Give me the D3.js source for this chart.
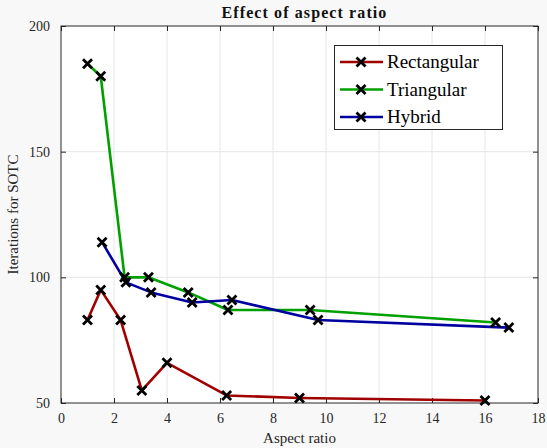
<!DOCTYPE html>
<html>
<head>
<meta charset="utf-8">
<script src="https://cdn.jsdelivr.net/npm/d3@7"></script>
<style>
  html, body { margin: 0; padding: 0; background: #f8f8f8; }
  svg { display: block; }
  svg text { font-family: "Liberation Serif", "DejaVu Serif", serif !important; }
</style>
</head>
<body>
<svg id="chart" width="547" height="448"></svg>
<script>
// Iterations needed for SOTC against aspect ratio, one series per mesh type
const seriesNames = ["Rectangular", "Triangular", "Hybrid"];
const seriesColors = ["#a00000", "#00a000", "#0000a0"];

const rectX = [1.0, 1.5, 2.25, 3.05, 4.0, 6.25, 9.0, 16.0];
const rectY = [83, 95, 83, 55, 66, 53, 52, 51];

const triX = [1.0, 1.5, 2.4, 3.3, 4.8, 6.3, 9.4, 16.4];
const triY = [185, 180, 100, 100, 94, 87, 87, 82];

const hybX = [1.55, 2.45, 3.4, 4.95, 6.45, 9.7, 16.9];
const hybY = [114, 98, 94, 90, 91, 83, 80];

const xTicks = [0, 2, 4, 6, 8, 10, 12, 14, 16, 18];
const yTicks = [50, 100, 150, 200];

const series = [
  { name: seriesNames[0], color: seriesColors[0], pts: rectX.map((x, i) => [x, rectY[i]]) },
  { name: seriesNames[1], color: seriesColors[1], pts: triX.map((x, i) => [x, triY[i]]) },
  { name: seriesNames[2], color: seriesColors[2], pts: hybX.map((x, i) => [x, hybY[i]]) }
];

const FONT = "'Liberation Serif', 'DejaVu Serif', serif";
const svg = d3.select("#chart");
const m = { left: 61, right: 538, top: 26, bottom: 403 };

const x = d3.scaleLinear().domain([0, 18]).range([m.left, m.right]);
const y = d3.scaleLinear().domain([50, 200]).range([m.bottom, m.top]);

// plot area
svg.append("rect")
  .attr("x", m.left).attr("y", m.top)
  .attr("width", m.right - m.left).attr("height", m.bottom - m.top)
  .attr("fill", "#ffffff");

// grid
const grid = svg.append("g").attr("stroke", "#e6e6e6").attr("stroke-width", 1);
xTicks.slice(1, -1).forEach(t => {
  grid.append("line").attr("x1", x(t)).attr("x2", x(t))
    .attr("y1", m.top).attr("y2", m.bottom);
});
yTicks.slice(1, -1).forEach(t => {
  grid.append("line").attr("x1", m.left).attr("x2", m.right)
    .attr("y1", y(t)).attr("y2", y(t));
});

// axes (ticks pointing inward, mirrored on top/right)
const tickLen = 5;
const axisStyle = g => {
  g.attr("font-family", null);
  g.select(".domain").remove();
  g.selectAll(".tick line").attr("stroke", "#262626").attr("stroke-width", 1);
  g.selectAll(".tick text")
    .style("font-family", FONT).style("font-size", "14px")
    .attr("fill", "#262626");
};

svg.append("g").attr("transform", `translate(0,${m.bottom})`)
  .call(d3.axisBottom(x).tickValues(xTicks).tickFormat(d3.format("d"))
    .tickSizeInner(-tickLen).tickSizeOuter(0).tickPadding(10))
  .call(axisStyle);
svg.append("g").attr("transform", `translate(0,${m.top})`)
  .call(d3.axisTop(x).tickValues(xTicks).tickFormat("")
    .tickSizeInner(-tickLen).tickSizeOuter(0))
  .call(axisStyle);
svg.append("g").attr("transform", `translate(${m.left},0)`)
  .call(d3.axisLeft(y).tickValues(yTicks).tickFormat(d3.format("d"))
    .tickSizeInner(-tickLen).tickSizeOuter(0).tickPadding(11))
  .call(axisStyle);
svg.append("g").attr("transform", `translate(${m.right},0)`)
  .call(d3.axisRight(y).tickValues(yTicks).tickFormat("")
    .tickSizeInner(-tickLen).tickSizeOuter(0))
  .call(axisStyle);

// box
svg.append("rect")
  .attr("x", m.left).attr("y", m.top)
  .attr("width", m.right - m.left).attr("height", m.bottom - m.top)
  .attr("fill", "none").attr("stroke", "#262626").attr("stroke-width", 1);

// lines
const line = d3.line().x(d => x(d[0])).y(d => y(d[1]));
series.forEach(s => {
  svg.append("path").datum(s.pts)
    .attr("d", line)
    .attr("fill", "none")
    .attr("stroke", s.color)
    .attr("stroke-width", 2.6)
    .attr("stroke-linejoin", "round");
});

// cross markers
const cross = (g, cx, cy, r) => {
  g.append("path")
    .attr("d", `M${cx - r},${cy - r}L${cx + r},${cy + r}M${cx - r},${cy + r}L${cx + r},${cy - r}`)
    .attr("stroke", "#000").attr("stroke-width", 2.8).attr("fill", "none");
};
const markers = svg.append("g");
series.forEach(s => {
  s.pts.forEach(p => cross(markers, x(p[0]), y(p[1]), 4.5));
});

// title and axis labels
svg.append("text")
  .attr("x", (m.left + m.right) / 2 + 5).attr("y", 18)
  .attr("text-anchor", "middle")
  .style("font-family", FONT).style("font-size", "16px").style("font-weight", "bold")
  .style("letter-spacing", "1.1px")
  .attr("fill", "#111")
  .text("Effect of aspect ratio");

svg.append("text")
  .attr("x", (m.left + m.right) / 2).attr("y", 443)
  .attr("text-anchor", "middle")
  .style("font-family", FONT).style("font-size", "15px")
  .attr("fill", "#262626")
  .text("Aspect ratio");

svg.append("text")
  .attr("transform", `translate(18,${(m.top + m.bottom) / 2}) rotate(-90)`)
  .attr("text-anchor", "middle")
  .style("font-family", FONT).style("font-size", "15px")
  .attr("fill", "#262626")
  .text("Iterations for SOTC");

// legend
const lg = svg.append("g");
lg.append("rect")
  .attr("x", 334.5).attr("y", 45.5).attr("width", 168).attr("height", 84)
  .attr("fill", "#ffffff").attr("stroke", "#262626").attr("stroke-width", 1);
series.forEach((s, i) => {
  const ly = 62 + i * 27.5;
  lg.append("line").attr("x1", 340).attr("x2", 383)
    .attr("y1", ly).attr("y2", ly)
    .attr("stroke", s.color).attr("stroke-width", 2.6);
  cross(lg, 361, ly, 4.5);
  lg.append("text").attr("x", 387).attr("y", ly + 6)
    .style("font-family", FONT).style("font-size", "19px")
    .attr("fill", "#000")
    .text(s.name);
});
</script>
</body>
</html>
